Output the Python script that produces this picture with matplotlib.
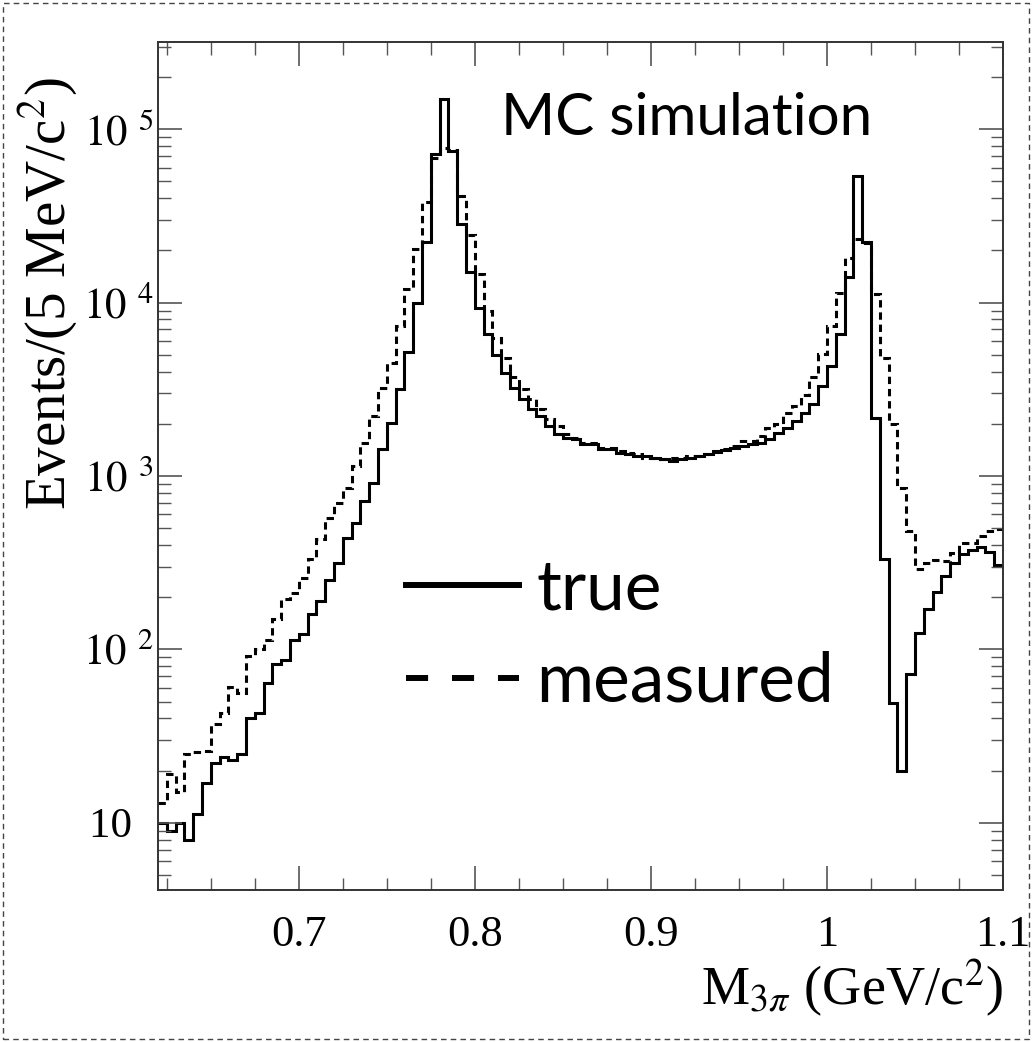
import numpy as np
import matplotlib
matplotlib.use("Agg")
import matplotlib.pyplot as plt
from matplotlib.lines import Line2D
from matplotlib.patches import Rectangle
from matplotlib.ticker import FixedLocator, FixedFormatter, LogLocator, NullFormatter, MultipleLocator

plt.rcParams['font.family'] = ['Liberation Serif', 'DejaVu Serif']
plt.rcParams['mathtext.fontset'] = 'stix'

# bin edges: 5 MeV bins from 0.62 to 1.10 GeV
edges = np.round(0.62 + 0.005 * np.arange(97), 3)

true_counts = [
    10, 9, 10, 8, 11.2, 17, 22, 24, 23, 25,
    40, 43, 64, 82, 87, 114, 122, 159, 190, 250,
    316, 441, 538, 717, 916, 1426, 2032, 3162, 5196, 10000,
    22400, 71800, 150000, 75000, 28600, 15000, 9300, 6580, 5000, 3950,
    3236, 2796, 2427, 2218, 1943, 1742, 1667, 1630, 1524, 1524,
    1426, 1426, 1365, 1334, 1303, 1303, 1276, 1248, 1221, 1248,
    1276, 1303, 1334, 1376, 1413, 1459, 1490, 1524, 1560, 1630,
    1778, 1880, 2075, 2320, 2600, 3305, 4315, 6580, 14000, 54000,
    22500, 2170, 330, 49, 20, 72, 125, 172, 214, 265,
    316, 353, 374, 389, 364, 305,
]

measured_counts = [
    13, 19, 15, 25, 25.5, 26, 37, 43, 61, 56,
    91, 100, 114, 149, 194, 212, 259, 330, 431, 575,
    702, 857, 1142, 1560, 2218, 3236, 4510, 7340, 11940, 20300,
    37850, 68700, 78000, 76000, 41200, 24500, 14600, 8950, 6290, 4820,
    3700, 3162, 2773, 2427, 2123, 1943, 1742, 1667, 1560, 1560,
    1459, 1459, 1393, 1365, 1334, 1276, 1276, 1248, 1276, 1276,
    1303, 1303, 1334, 1393, 1426, 1490, 1592, 1592, 1702, 1901,
    1986, 2300, 2550, 2950, 3700, 5040, 7340, 11430, 18200, 23200,
    22200, 11170, 4820, 1986, 857, 482, 292, 316, 327, 325,
    361, 413, 410, 451, 482, 492,
]

xticks = [0.7, 0.8, 0.9, 1.0, 1.1]
xticklabels = ['0.7', '0.8', '0.9', '1', '1.1']
yticks = [10, 100, 1000, 10000, 100000]
yticklabels = ['10\u2002', r'$10^{\enspace 2}$', r'$10^{\enspace 3}$',
               r'$10^{\enspace 4}$', r'$10^{\enspace 5}$']

fig = plt.figure(figsize=(10.32, 10.42), dpi=100)
ax = fig.add_axes([0.153, 0.146, 0.819, 0.814])

ax.stairs(true_counts, edges, color='black', lw=2.2, baseline=None)
ax.stairs(measured_counts, edges, color='black', lw=2.2, baseline=None,
          linestyle=(0, (2.4, 1.6)))

ax.set_yscale('log')
ax.set_xlim(0.62, 1.1)
ax.set_ylim(4.1, 3.2e5)

ax.xaxis.set_major_locator(FixedLocator(xticks))
ax.xaxis.set_major_formatter(FixedFormatter(xticklabels))
ax.xaxis.set_minor_locator(MultipleLocator(0.025))
ax.yaxis.set_major_locator(FixedLocator(yticks))
ax.yaxis.set_major_formatter(FixedFormatter(yticklabels))
ax.yaxis.set_minor_locator(LogLocator(base=10, subs=np.arange(2, 10)))
ax.yaxis.set_minor_formatter(NullFormatter())

ax.tick_params(which='both', direction='in', top=True, right=True, colors='#555555',
               labelcolor='black')
ax.tick_params(axis='x', labelsize=32, pad=18)
ax.tick_params(axis='y', labelsize=31, pad=3)
ax.tick_params(which='major', length=17, width=1.2)
ax.tick_params(which='minor', length=9, width=1.0)
for s in ax.spines.values():
    s.set_color('#333333')
    s.set_linewidth(1.4)

ax.set_xlabel(r'M$_{3\pi}$ (GeV/c$^{2}$)', fontsize=39, loc='right', labelpad=2)
ax.set_ylabel(r'Events/(5 MeV/c$^{2}$)', fontsize=41, loc='top', labelpad=2)
ax.yaxis.label.set_y(0.958)

ax.text(0.625, 0.890, 'MC simulation', transform=ax.transAxes, fontsize=42,
        family='Lato', ha='center', va='baseline')

handles = [Line2D([], [], color='black', lw=4.3),
           Line2D([], [], color='black', lw=4.3, linestyle=(0, (3.7, 4.0)))]
leg = ax.legend(handles, ['true', 'measured'], loc='center left',
                bbox_to_anchor=(0.293, 0.299), frameon=False, handlelength=1.63,
                handletextpad=0.25, labelspacing=0.42, borderpad=0, borderaxespad=0,
                prop={'family': 'Lato', 'size': 50})

fig.patches.append(Rectangle((0.003, 0.003), 0.994, 0.994, transform=fig.transFigure,
                             fill=False, ec='#444444', lw=1.0, linestyle=(0, (4, 3))))

fig.savefig('out.png', dpi=100)
